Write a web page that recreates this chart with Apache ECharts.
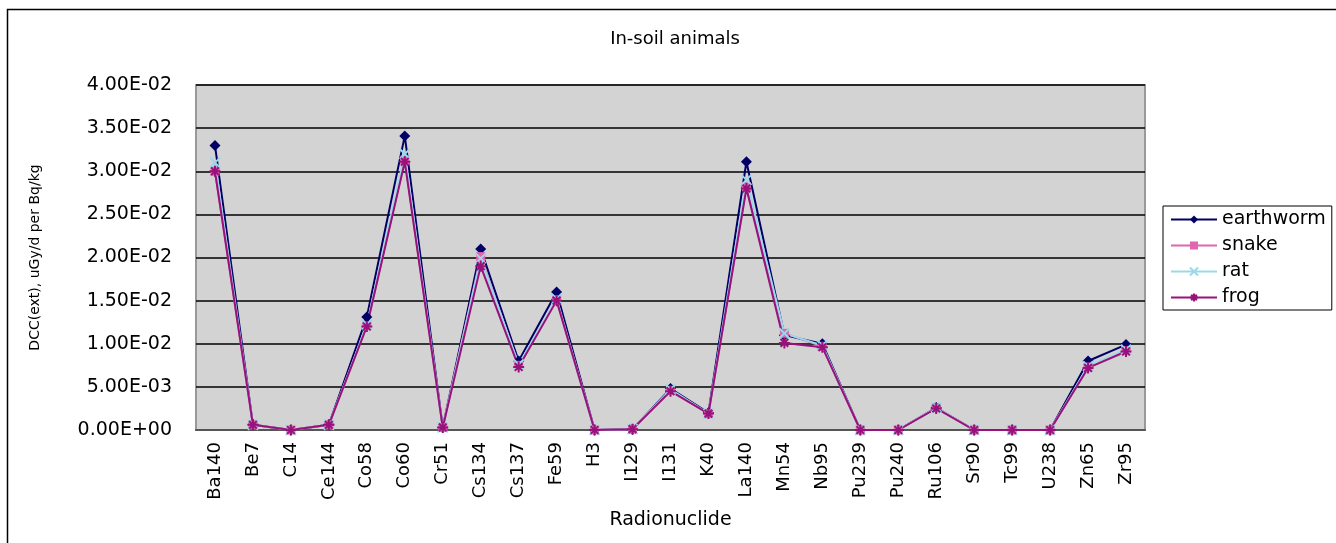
<!DOCTYPE html>
<html lang="en">
<head>
  <meta charset="UTF-8">
  <title>In-soil animals</title>
  <style>
    html, body { margin: 0; padding: 0; background: #fff; }
  </style>
</head>
<body>
<div id="main" style="width: 1336px;height:543px;"></div>
<script src="https://cdn.jsdelivr.net/npm/echarts@6/dist/echarts.min.js"></script>
<script type="text/javascript">
  const nuclides = ['Ba140', 'Be7', 'C14', 'Ce144', 'Co58', 'Co60', 'Cr51', 'Cs134', 'Cs137', 'Fe59', 'H3', 'I129', 'I131',
    'K40', 'La140', 'Mn54', 'Nb95', 'Pu239', 'Pu240', 'Ru106', 'Sr90', 'Tc99', 'U238', 'Zn65', 'Zr95']

  const earthworm = [0.0330, 0.0006, 0.0000, 0.0006, 0.0131, 0.0341, 0.0003, 0.0210, 0.0080, 0.0160, 0.0000, 0.0001, 0.0048,
    0.0020, 0.0311, 0.0110, 0.0100, 0.0000, 0.0000, 0.0026, 0.0000, 0.0000, 0.0000, 0.0080, 0.0099]
  const snake = [0.0300, 0.0006, 0.0000, 0.0006, 0.0121, 0.0313, 0.0003, 0.0201, 0.0075, 0.0151, 0.0000, 0.0001, 0.0046,
    0.0019, 0.0282, 0.0112, 0.0097, 0.0000, 0.0000, 0.0026, 0.0000, 0.0000, 0.0000, 0.0073, 0.0092]
  const rat = [0.0310, 0.0006, 0.0000, 0.0006, 0.0122, 0.0320, 0.0003, 0.0199, 0.0076, 0.0152, 0.0000, 0.0001, 0.0047,
    0.0019, 0.0290, 0.0112, 0.0098, 0.0000, 0.0000, 0.0026, 0.0000, 0.0000, 0.0000, 0.0074, 0.0093]
  const frog = [0.0300, 0.0006, 0.0000, 0.0006, 0.0120, 0.0311, 0.0003, 0.0190, 0.0073, 0.0150, 0.0000, 0.0001, 0.0045,
    0.0019, 0.0280, 0.0101, 0.0096, 0.0000, 0.0000, 0.0025, 0.0000, 0.0000, 0.0000, 0.0072, 0.0091]

  const font = 'DejaVu Sans'

  // excel style: 4.00E-02
  function sci (v) {
    if (v === 0) return '0.00E+00'
    const parts = v.toExponential(2).split('e')
    const exp = parseInt(parts[1], 10)
    const sign = exp < 0 ? '-' : '+'
    const abs = Math.abs(exp)
    return parts[0] + 'E' + sign + (abs < 10 ? '0' + abs : abs)
  }

  const crossPath = 'path://M0,0L10,10M10,0L0,10'
  const starPath = 'path://M5,0L5,10M0,5L10,5M1.5,1.5L8.5,8.5M8.5,1.5L1.5,8.5'

  const Chart = echarts.init(document.getElementById('main'))

  const option = {
    animation: false,
    backgroundColor: '#fff',
    title: {
      text: 'In-soil animals',
      left: 670,
      textAlign: 'center',
      top: 25,
      textStyle: { fontFamily: font, fontSize: 18, fontWeight: 'normal', color: '#000' }
    },
    graphic: [{
      type: 'rect',
      shape: { x: 7.5, y: 9.5, width: 1400, height: 600 },
      style: { fill: 'none', stroke: '#000', lineWidth: 1.5 },
      silent: true
    }],
    legend: {
      orient: 'vertical',
      left: 1163,
      top: 206,
      padding: [4, 6, 3, 7],
      itemGap: 7,
      itemWidth: 46,
      itemHeight: 10,
      borderColor: '#000',
      borderWidth: 1,
      backgroundColor: '#fff',
      textStyle: { fontFamily: font, fontSize: 19, color: '#000' },
      data: ['earthworm', 'snake', 'rat', 'frog']
    },
    grid: {
      left: 196,
      right: 191,
      top: 85,
      bottom: 113,
      show: true,
      backgroundColor: '#d3d3d3',
      borderColor: '#999',
      borderWidth: 2
    },
    xAxis: {
      type: 'category',
      data: nuclides,
      boundaryGap: true,
      name: 'Radionuclide',
      nameLocation: 'middle',
      nameGap: 81,
      nameTextStyle: { fontFamily: font, fontSize: 19, color: '#000' },
      axisLine: { lineStyle: { color: '#555', width: 2 } },
      axisTick: { inside: true, length: 5, lineStyle: { color: '#555' } },
      axisLabel: { rotate: 90, margin: 12, fontFamily: font, fontSize: 18, color: '#000', interval: 0 }
    },
    yAxis: {
      type: 'value',
      min: 0,
      max: 0.04,
      interval: 0.005,
      name: 'DCC(ext), uGy/d per Bq/kg',
      nameLocation: 'middle',
      nameGap: 154,
      nameTextStyle: { fontFamily: font, fontSize: 14, color: '#000' },
      axisLine: { show: false },
      axisTick: { show: false },
      axisLabel: { margin: 24, fontFamily: font, fontSize: 19, color: '#000', formatter: sci },
      splitLine: { lineStyle: { color: '#000', width: 1.5 } }
    },
    series: [{
      name: 'earthworm',
      type: 'line',
      data: earthworm,
      symbol: 'diamond',
      symbolSize: 11,
      lineStyle: { color: '#000066', width: 2 },
      itemStyle: { color: '#000066' }
    }, {
      name: 'snake',
      type: 'line',
      data: snake,
      symbol: 'rect',
      symbolSize: 9,
      lineStyle: { color: '#e066b0', width: 2 },
      itemStyle: { color: '#e066b0' }
    }, {
      name: 'rat',
      type: 'line',
      data: rat,
      symbol: crossPath,
      symbolSize: 10,
      lineStyle: { color: '#99d9ea', width: 2 },
      itemStyle: { color: '#99d9ea', borderColor: '#99d9ea', borderWidth: 2 }
    }, {
      name: 'frog',
      type: 'line',
      data: frog,
      symbol: starPath,
      symbolSize: 11,
      lineStyle: { color: '#99117a', width: 2 },
      itemStyle: { color: '#99117a', borderColor: '#99117a', borderWidth: 2 }
    }]
  }

  Chart.setOption(option)
</script>
</body>
</html>
